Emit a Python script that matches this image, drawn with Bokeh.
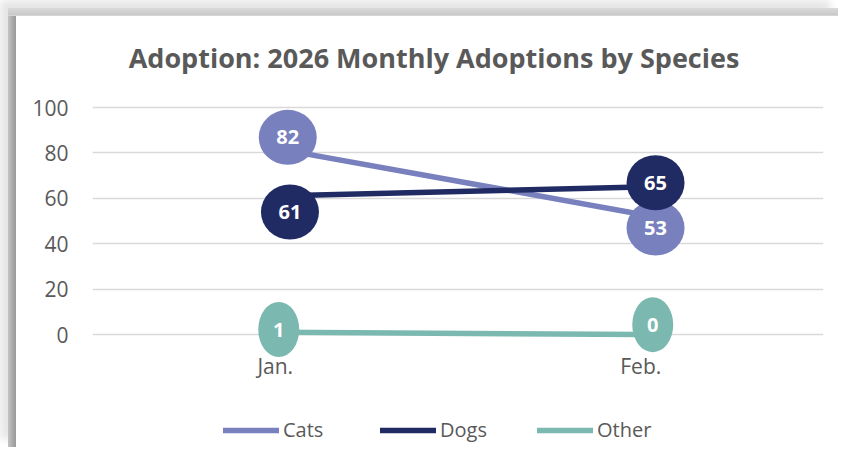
from bokeh.plotting import figure
from bokeh.models import ColumnDataSource, Range1d, FixedTicker, Legend, LegendItem, Label
from bokeh.embed import file_html
from bokeh.resources import INLINE
from bokeh.core.properties import value

# ---- data ----
months = ["Jan.", "Feb."]
series_names = ["Cats", "Dogs", "Other"]
cats = [82, 53]
dogs = [61, 65]
other = [1, 0]
y_ticks = [0, 20, 40, 60, 80, 100]
title_text = "Adoption: 2026 Monthly Adoptions by Species"

# ---- style ----
colors = ["#7880be", "#212b63", "#7bb9b0"]
text_gray = "#595959"
# data label bubble offsets in screen px (dx right, dy up), per series per month
label_offsets = [
    [(12.5, 11.0), (14.8, -13.8)],
    [(14.7, -16.0), (14.8, 4.2)],
    [(3.5, 2.7), (12.0, 9.8)],
]

W, H = 830, 439
ML, MR = 84, 15
FW = W - ML - MR           # plot frame width
FH = H                     # frame spans full height
top_px = 99                # px from top of frame to the 100 gridline
px_per_y = 2.27
x0, x1 = -0.5, len(months) - 0.5
y1 = y_ticks[-1] + top_px / px_per_y
y0 = y1 - FH / px_per_y
px_per_x = FW / (x1 - x0)
xaxis_px_below_zero = 9.7

p = figure(width=W, height=H, x_range=Range1d(x0, x1), y_range=Range1d(y0, y1),
           output_backend="svg", toolbar_location=None,
           min_border_left=ML, min_border_right=MR, min_border_top=0, min_border_bottom=0)
p.margin = (8, 0, 0, 8)
p.styles = {
    "background": ("linear-gradient(to bottom, #dadada 0px, #c8c8c8 7px, #e2e2e2 8px) top left / 100% 8px no-repeat, "
                   "linear-gradient(to right, #c4c4c4 0px, #a2a2a2 6px, #9a9a9a 8px) top left / 8px 100% no-repeat, "
                   "#ffffff"),
    "box-shadow": "-8px -8px 8px 0px rgba(0,0,0,0.10)",
}
p.outline_line_color = None
p.background_fill_alpha = 0
p.border_fill_alpha = 0

xs = list(range(len(months)))
p.xaxis.ticker = FixedTicker(ticks=xs)
p.xaxis.major_label_overrides = {i: m for i, m in enumerate(months)}
p.xaxis.fixed_location = -xaxis_px_below_zero / px_per_y
p.yaxis.ticker = FixedTicker(ticks=y_ticks)
p.xgrid.visible = False
p.ygrid.grid_line_color = "#d9d9d9"
p.ygrid.grid_line_width = 1.5
for ax in (p.xaxis, p.yaxis):
    ax.axis_line_color = None
    ax.major_tick_line_color = None
    ax.minor_tick_line_color = None
    ax.major_label_text_font = "Open Sans"
    ax.major_label_text_font_size = "21px"
    ax.major_label_text_color = text_gray
p.yaxis.major_label_standoff = 18
p.xaxis.major_label_standoff = 2

all_vals = [cats, dogs, other]
renderers = []
for vals, col in zip(all_vals, colors):
    r = p.line(x=xs, y=vals, line_color=col, line_width=5.5, line_cap="round")
    renderers.append(r)

for vals, col, offs in zip(all_vals, colors, label_offsets):
    lx = [xi + dx / px_per_x for xi, (dx, dy) in zip(xs, offs)]
    ly = [v + dy / px_per_y for v, (dx, dy) in zip(vals, offs)]
    txt = [str(v) for v in vals]
    wd = [58 if len(t) > 1 else 41 for t in txt]
    src = ColumnDataSource(dict(x=lx, y=ly, t=txt, w=wd, h=[55] * len(txt)))
    p.ellipse(x="x", y="y", width="w", height="h", width_units="screen", height_units="screen",
              source=src, fill_color=col, line_color=None)
    p.text(x="x", y="y", text="t", source=src, text_align="center", text_baseline="middle",
           text_color="white", text_font=value("Open Sans"), text_font_style="bold",
           text_font_size="20px")

title = Label(x=341.5, y=390, x_units="screen", y_units="screen", text=title_text,
              text_align="center", text_baseline="middle", text_font="Open Sans",
              text_font_style="bold", text_font_size="27px", text_color=text_gray)
p.add_layout(title)

legend = Legend(items=[LegendItem(label=n, renderers=[r]) for n, r in zip(series_names, renderers)],
                orientation="horizontal", location=(131, 4), glyph_width=56, glyph_height=24,
                label_height=24, label_standoff=4, label_width=60, spacing=37, padding=0, margin=0,
                border_line_color=None, background_fill_alpha=0, label_text_font="Open Sans",
                label_text_font_size="20px", label_text_color=text_gray)
p.add_layout(legend)

open("out.html", "w").write(file_html(p, INLINE))
